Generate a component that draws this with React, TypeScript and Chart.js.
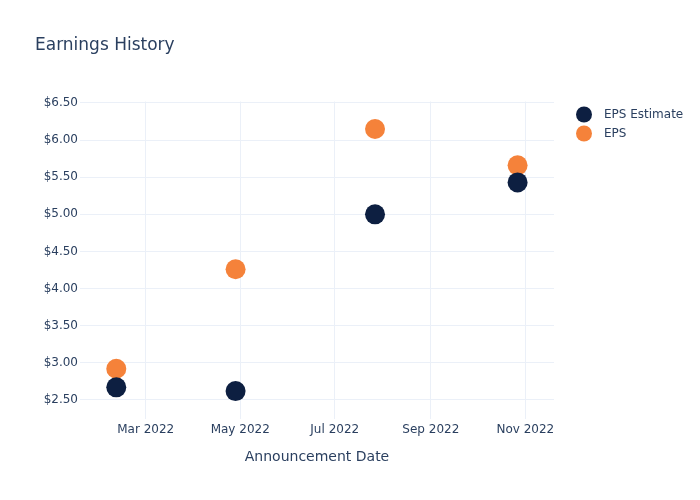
import React, { useEffect, useRef } from 'react';
import { Chart, registerables } from 'chart.js';

Chart.register(...registerables);

// ---- data ----
const announcementDates = ['2022-02-10', '2022-04-28', '2022-07-27', '2022-10-27'];
const epsEstimate = [2.67, 2.62, 5.0, 5.43];
const epsActual = [2.92, 4.26, 6.15, 5.66];
const seriesNames = ['EPS Estimate', 'EPS'];
const seriesColors = ['#0d1f41', '#f5823a'];
const xTickDates = ['2022-03-01', '2022-05-01', '2022-07-01', '2022-09-01', '2022-11-01'];
const xTickLabels = ['Mar 2022', 'May 2022', 'Jul 2022', 'Sep 2022', 'Nov 2022'];
const yTickValues = [2.5, 3.0, 3.5, 4.0, 4.5, 5.0, 5.5, 6.0, 6.5];
const xRange = ['2022-01-17T14:00:00Z', '2022-11-19T12:00:00Z'];
const yRange = [2.241, 6.52];

const FONT = 'DejaVu Sans';
const TEXT = '#2a3f5f';
const GRID = '#ebf0f8';

const ms = (d: string) => Date.parse(d.length === 10 ? d + 'T00:00:00Z' : d);

function legendDot(color: string): HTMLCanvasElement {
  const c = document.createElement('canvas');
  c.width = 37;
  c.height = 17;
  const g = c.getContext('2d')!;
  g.fillStyle = color;
  g.beginPath();
  g.arc(23, 8.5, 8, 0, Math.PI * 2);
  g.fill();
  return c;
}

export default function App() {
  const ref = useRef<HTMLCanvasElement | null>(null);

  useEffect(() => {
    if (!ref.current) return;
    const dots = seriesColors.map(legendDot);
    const series = [epsEstimate, epsActual];
    const chart = new Chart(ref.current, {
      type: 'scatter',
      data: {
        datasets: series.map((vals, i) => ({
          label: seriesNames[i],
          data: vals.map((v, j) => ({ x: ms(announcementDates[j]), y: v })),
          backgroundColor: seriesColors[i],
          borderColor: seriesColors[i],
          borderWidth: 0,
          pointRadius: 10,
          pointHoverRadius: 10,
          pointStyle: 'circle',
        })),
      },
      options: {
        responsive: false,
        animation: false,
        events: [],
        layout: { padding: { left: 35, right: 6.75, top: 0, bottom: 31.6 } },
        plugins: {
          tooltip: { enabled: false },
          title: {
            display: true,
            text: 'Earnings History',
            align: 'start',
            color: TEXT,
            font: { family: FONT, size: 17, weight: 'normal' },
            padding: { top: 35, bottom: 46.1 },
          },
          legend: {
            display: true,
            position: 'right',
            align: 'start',
            fullSize: false,
            labels: {
              usePointStyle: true,
              pointStyleWidth: 37,
              padding: 7,
              color: TEXT,
              font: { family: FONT, size: 12 },
              generateLabels: (c: any) => {
                const items = Chart.defaults.plugins.legend.labels.generateLabels(c);
                return items.map((it: any, i: number) => ({ ...it, pointStyle: dots[i] }));
              },
            },
          },
        },
        scales: {
          x: {
            type: 'linear',
            min: ms(xRange[0]),
            max: ms(xRange[1]),
            afterBuildTicks: (s: any) => {
              s.ticks = xTickDates.map((d) => ({ value: ms(d) }));
            },
            ticks: {
              autoSkip: false,
              maxRotation: 0,
              padding: 3,
              color: TEXT,
              font: { family: FONT, size: 12 },
              callback: (v: any) => {
                const k = xTickDates.findIndex((d) => ms(d) === v);
                return k >= 0 ? xTickLabels[k] : '';
              },
            },
            grid: { color: GRID, drawTicks: false, lineWidth: 1 },
            border: { display: false },
            title: {
              display: true,
              text: 'Announcement Date',
              color: TEXT,
              font: { family: FONT, size: 14 },
              padding: { top: 9, bottom: 3 },
            },
          },
          y: {
            type: 'linear',
            min: yRange[0],
            max: yRange[1],
            afterBuildTicks: (s: any) => {
              s.ticks = yTickValues.map((v) => ({ value: v }));
            },
            afterFit: (s: any) => {
              s.width = 45;
            },
            ticks: {
              padding: 2,
              color: TEXT,
              font: { family: FONT, size: 12 },
              callback: (v: any) => '$' + Number(v).toFixed(2),
            },
            grid: { color: GRID, drawTicks: false, lineWidth: 1 },
            border: { display: false },
          },
        },
      },
    } as any);
    return () => chart.destroy();
  }, []);

  return (
    <div style={{ position: 'absolute', left: 0, top: 0, width: 700, height: 500, background: '#fff' }}>
      <canvas ref={ref} width={700} height={500} />
    </div>
  );
}
